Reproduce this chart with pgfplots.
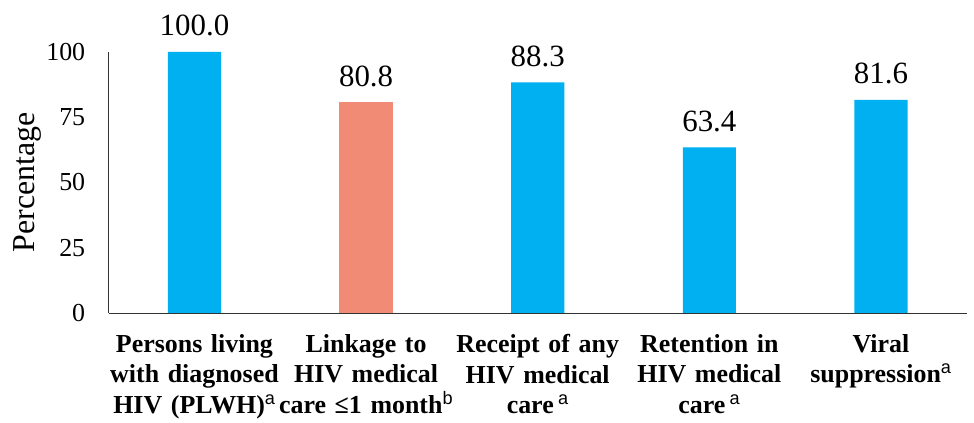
\documentclass[border=0pt]{standalone}
\usepackage{pgfplots}
\pgfplotsset{compat=1.18}
\usepackage{fontspec}
\setmainfont{Liberation Serif}
\setsansfont{Liberation Sans}
\definecolor{barblue}{HTML}{00B0F0}
\definecolor{barsalmon}{HTML}{F28B76}
\newcommand{\supn}[1]{\textsuperscript{\mdseries\sffamily #1}}
\begin{document}
\begin{tikzpicture}
\begin{axis}[
  name=ax,
  scale only axis,
  width=861pt, height=262pt,
  xmin=-0.5, xmax=4.5,
  ymin=0, ymax=100,
  axis lines=left,
  axis line style={-, black!80, line width=0.9pt},
  ytick={0,25,50,75,100},
  xtick={0,1,2,3,4},
  major tick length=0pt,
  ybar, bar width=0.31, bar shift=0pt,
  clip=false,
  /pgf/number format/assume math mode=true,
  yticklabel style={font=\fontsize{26}{30}\selectfont, xshift=-20pt},
  ylabel={Percentage},
  ylabel style={font=\fontsize{32}{36}\selectfont, yshift=-2pt},
  xticklabels={
    {Persons living\\with diagnosed\\HIV (PLWH)\supn{a}},
    {Linkage to\\HIV medical\\care ≤1 month\supn{b}},
    {Receipt of any\\HIV medical\\care\,\supn{a}},
    {Retention in\\HIV medical\\care\,\supn{a}},
    {Viral\\suppression\supn{a}}},
  xticklabel style={font=\fontsize{26}{30.5}\selectfont\bfseries, align=center, text width=180pt, yshift=-18pt},
  nodes near coords,
  nodes near coords style={font=\fontsize{31}{34}\selectfont, black, yshift=12pt,
     /pgf/number format/.cd, fixed, fixed zerofill, precision=1, assume math mode=true},
]
\addplot[fill=barblue, draw=none] coordinates {(0,100.0) (2,88.3) (3,63.4) (4,81.6)};
\addplot[fill=barsalmon, draw=none] coordinates {(1,80.8)};
\end{axis}
\path ([xshift=-109pt,yshift=-107pt]ax.south west) rectangle ([xshift=4pt,yshift=52pt]ax.north east);
\end{tikzpicture}
\end{document}
